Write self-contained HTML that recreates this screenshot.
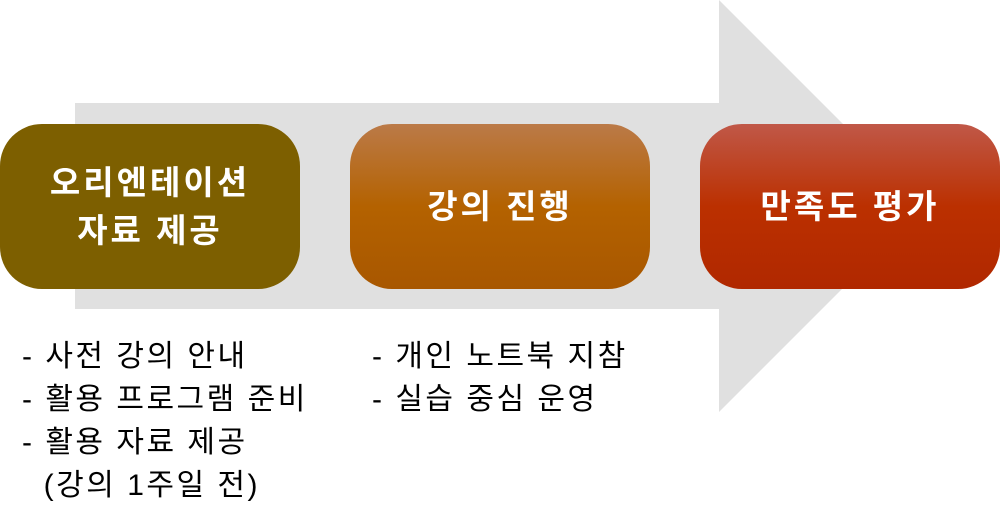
<!DOCTYPE html>
<html><head><meta charset="utf-8"><style>
body{margin:0;width:1000px;height:517px;background:#fff;position:relative;overflow:hidden;font-family:"Liberation Sans","Noto Sans CJK KR",sans-serif}
.b{position:absolute;top:124px;width:300px;height:165px;border-radius:42px;display:flex;align-items:center;justify-content:center;text-align:center;color:#fff;font-weight:bold;font-size:33px;line-height:48px;letter-spacing:3px}
.t{position:absolute;font-size:30px;line-height:43px;color:#000;white-space:pre;letter-spacing:2.5px}
</style></head><body>
<svg width="1000" height="517" style="position:absolute;left:0;top:0">
<polygon points="75,103 719,103 719,0 925,206 719,412 719,309 75,309" fill="#e0e0e0"/>
</svg>
<div class="b" style="left:0;background:#7d5f00">오리엔테이션<br>자료 제공</div>
<div class="b" style="left:350px;background:linear-gradient(#bb7a48,#b46200 50%,#a85700)">강의 진행</div>
<div class="b" style="left:700px;background:linear-gradient(#c05848,#bb3000 50%,#b02800)">만족도 평가</div>
<div class="t" style="left:22px;top:335px">- 사전 강의 안내
- 활용 프로그램 준비
- 활용 자료 제공
  (강의 1주일 전)</div>
<div class="t" style="left:372px;top:335px">- 개인 노트북 지참
- 실습 중심 운영</div>
</body></html>
